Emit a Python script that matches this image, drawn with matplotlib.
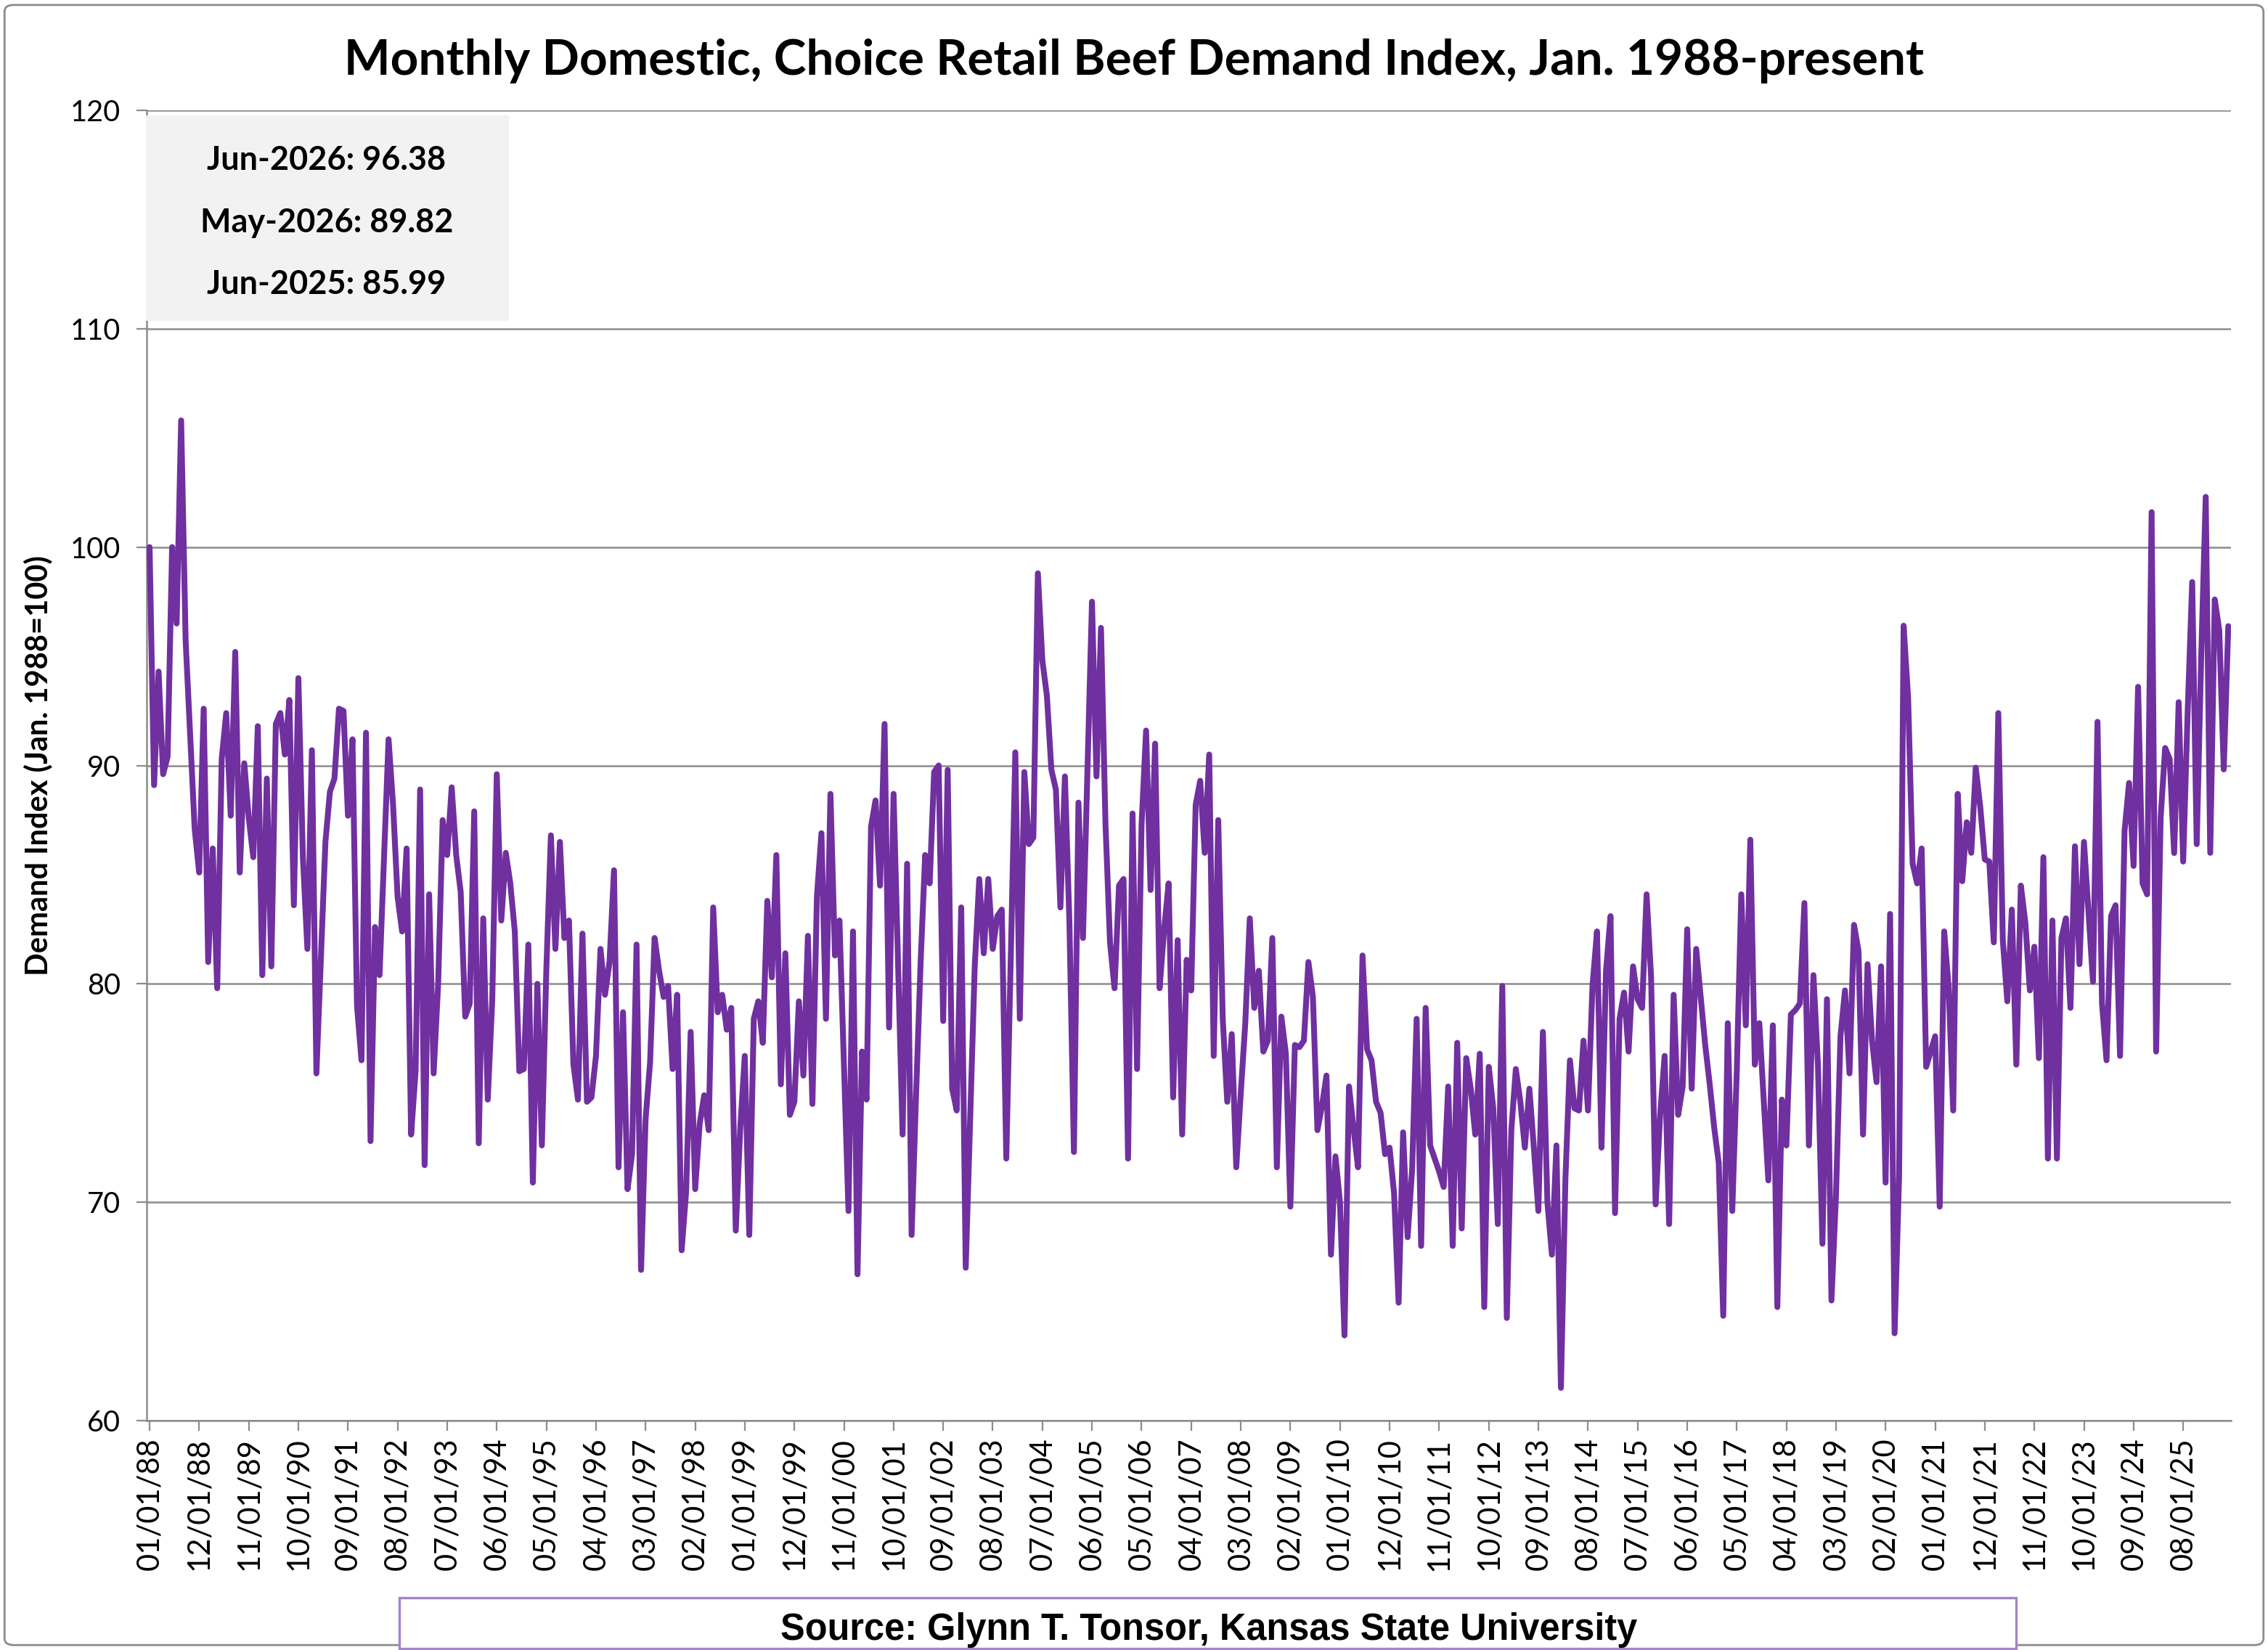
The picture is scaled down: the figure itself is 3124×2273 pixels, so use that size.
import matplotlib
matplotlib.use("Agg")
import matplotlib.pyplot as plt
from matplotlib.patches import Rectangle, FancyBboxPatch
import numpy as np
import pandas as pd

# monthly demand index (Jan. 1988 = 100)
idx_1988_1991 = [100.0, 89.1, 94.3, 89.6, 90.4, 100.0, 96.5, 105.8, 95.7, 91.4, 87.1, 85.1,
                 92.6, 81.0, 86.2, 79.8, 90.3, 92.4, 87.7, 95.2, 85.1, 90.1, 87.6, 85.8,
                 91.8, 80.4, 89.4, 80.8, 91.9, 92.4, 90.5, 93.0, 83.6, 94.0, 85.8, 81.6,
                 90.7, 75.9, 81.2, 86.5, 88.8, 89.4, 92.6, 92.5, 87.7, 91.2, 79.0, 76.5]
idx_1992_1995 = [91.5, 72.8, 82.6, 80.4, 85.8, 91.2, 88.2, 84.0, 82.4, 86.2, 73.1, 76.0,
                 88.9, 71.7, 84.1, 75.9, 80.0, 87.5, 85.9, 89.0, 85.9, 84.2, 78.5, 79.1,
                 87.9, 72.7, 83.0, 74.7, 79.3, 89.6, 82.9, 86.0, 84.6, 82.4, 76.0, 76.1,
                 81.8, 70.9, 80.0, 72.6, 80.7, 86.8, 81.6, 86.5, 82.1, 82.9, 76.3, 74.7]
idx_1996_1999 = [82.3, 74.6, 74.8, 76.7, 81.6, 79.5, 81.0, 85.2, 71.6, 78.7, 70.6, 72.2,
                 81.8, 66.9, 73.8, 76.4, 82.1, 80.6, 79.4, 79.9, 76.1, 79.5, 67.8, 70.5,
                 77.8, 70.6, 73.6, 74.9, 73.3, 83.5, 78.7, 79.5, 77.9, 78.9, 68.7, 73.4,
                 76.7, 68.5, 78.4, 79.2, 77.3, 83.8, 80.3, 85.9, 75.4, 81.4, 74.0, 74.6]
idx_2000_2003 = [79.2, 75.8, 82.2, 74.5, 84.0, 86.9, 78.4, 88.7, 81.3, 82.9, 76.2, 69.6,
                 82.4, 66.7, 76.9, 74.7, 87.2, 88.4, 84.5, 91.9, 78.0, 88.7, 80.9, 73.1,
                 85.5, 68.5, 75.0, 81.0, 85.9, 84.6, 89.7, 90.0, 78.3, 89.8, 75.2, 74.2,
                 83.5, 67.0, 73.9, 80.8, 84.8, 81.4, 84.8, 81.6, 83.1, 83.4, 72.0, 81.3]
idx_2004_2007 = [90.6, 78.4, 89.7, 86.4, 86.7, 98.8, 94.8, 93.2, 89.8, 88.9, 83.5, 89.5,
                 82.8, 72.3, 88.3, 82.1, 89.8, 97.5, 89.5, 96.3, 87.3, 81.9, 79.8, 84.5,
                 84.8, 72.0, 87.8, 76.1, 87.3, 91.6, 84.3, 91.0, 79.8, 82.5, 84.6, 74.8,
                 82.0, 73.1, 81.1, 79.7, 88.2, 89.3, 86.0, 90.5, 76.7, 87.5, 78.4, 74.6]
idx_2008_2011 = [77.7, 71.6, 75.0, 78.2, 83.0, 78.9, 80.6, 76.9, 77.4, 82.1, 71.6, 78.5,
                 76.8, 69.8, 77.2, 77.1, 77.4, 81.0, 79.4, 73.3, 74.4, 75.8, 67.6, 72.1,
                 70.0, 63.9, 75.3, 73.4, 71.6, 81.3, 77.0, 76.5, 74.6, 74.1, 72.2, 72.5,
                 70.4, 65.4, 73.2, 68.4, 71.5, 78.4, 68.0, 78.9, 72.6, 72.0, 71.4, 70.7]
idx_2012_2015 = [75.3, 68.0, 77.3, 68.8, 76.6, 75.2, 73.1, 76.8, 65.2, 76.2, 74.3, 69.0,
                 79.9, 64.7, 73.3, 76.1, 74.6, 72.5, 75.2, 72.5, 69.6, 77.8, 70.0, 67.6,
                 72.6, 61.5, 71.1, 76.5, 74.3, 74.2, 77.4, 74.2, 79.9, 82.4, 72.5, 80.6,
                 83.1, 69.5, 78.4, 79.6, 76.9, 80.8, 79.3, 78.9, 84.1, 80.3, 69.9, 74.0]
idx_2016_2019 = [76.7, 69.0, 79.5, 74.0, 75.3, 82.5, 75.2, 81.6, 79.4, 77.2, 75.4, 73.4,
                 71.8, 64.8, 78.2, 69.6, 76.0, 84.1, 78.1, 86.6, 76.3, 78.2, 74.6, 71.0,
                 78.1, 65.2, 74.7, 72.6, 78.6, 78.8, 79.1, 83.7, 72.6, 80.4, 76.3, 68.1,
                 79.3, 65.5, 70.3, 77.6, 79.7, 75.9, 82.7, 81.5, 73.1, 80.9, 77.4, 75.5]
idx_2020_2023 = [80.8, 70.9, 83.2, 64.0, 71.2, 96.4, 93.1, 85.5, 84.6, 86.2, 76.2, 76.9,
                 77.6, 69.8, 82.4, 79.8, 74.2, 88.7, 84.7, 87.4, 86.0, 89.9, 88.1, 85.7,
                 85.6, 81.9, 92.4, 82.0, 79.2, 83.4, 76.3, 84.5, 82.8, 79.7, 81.7, 76.6,
                 85.8, 72.0, 82.9, 72.0, 82.1, 83.0, 78.9, 86.3, 80.9, 86.5, 83.3, 80.1]
idx_2024_2026 = [92.0, 79.1, 76.5, 83.1, 83.6, 76.7, 87.0, 89.2, 85.4, 93.6, 84.6, 84.1,
                 101.6, 76.9, 87.6, 90.8, 90.3, 85.99, 92.9, 85.6, 92.5, 98.4, 86.4, 95.0,
                 102.3, 86.0, 97.6, 96.2, 89.82, 96.38]

latest_labels = ["Jun-2026: 96.38", "May-2026: 89.82", "Jun-2025: 85.99"]
title = "Monthly Domestic, Choice Retail Beef Demand Index, Jan. 1988-present"
source = "Source: Glynn T. Tonsor, Kansas State University"

values = (idx_1988_1991 + idx_1992_1995 + idx_1996_1999 + idx_2000_2003 + idx_2004_2007
          + idx_2008_2011 + idx_2012_2015 + idx_2016_2019 + idx_2020_2023 + idx_2024_2026)
months = pd.date_range("1988-01-01", periods=len(values), freq="MS")
x = np.arange(len(values))

plt.rcParams["font.family"] = ["Lato", "DejaVu Sans"]

W, H = 3124, 2273
fig = plt.figure(figsize=(W / 200, H / 200), dpi=200)
fig.patch.set_facecolor("white")

ax = fig.add_axes([202.3 / W, 1 - 1957 / H, (3073 - 202.3) / W, (1957 - 152) / H])
ax.plot(x, values, color="#7030A0", lw=2.9, solid_joinstyle="round",
        solid_capstyle="round", zorder=3)
ax.set_xlim(-0.6, len(values) - 1 + 0.6)
ax.set_ylim(60, 120)
ax.set_yticks(range(60, 121, 10))
ax.yaxis.grid(True, color="#8c8c8c", lw=0.9)
ax.set_axisbelow(True)
for s in ["top", "right"]:
    ax.spines[s].set_visible(False)
for s in ["left", "bottom"]:
    ax.spines[s].set_color("#8c8c8c")
    ax.spines[s].set_linewidth(0.9)

ax.set_xticks(x[::11], [d.strftime("%m/%d/%y") for d in months[::11]], rotation=90)
ax.tick_params(axis="x", direction="out", length=5, color="#8c8c8c", labelsize=15, pad=3.5)
ax.tick_params(axis="y", direction="out", length=5, color="#8c8c8c", labelsize=14.3, pad=8)

fig.text(52 / W, 1 - 1055 / H, "Demand Index (Jan. 1988=100)", rotation=90,
         ha="center", va="center", fontsize=15, fontweight="bold")
fig.text(0.5, 1 - 84 / H, title, ha="center", va="center", fontsize=24.3, fontweight="bold")

# box with latest values
fig.add_artist(Rectangle((201 / W, 1 - 442 / H), (701 - 201) / W, (442 - 159) / H,
                         transform=fig.transFigure, facecolor="#f2f2f2",
                         edgecolor="none", zorder=5))
for lab, yy in zip(latest_labels, [221, 307, 392]):
    fig.text(450 / W, 1 - yy / H, lab, ha="center", va="center", fontsize=16.2,
             fontweight="bold", zorder=6)

# source box
fig.add_artist(Rectangle((550 / W, 1 - 2271 / H), (2777 - 550) / W, (2271 - 2201) / H,
                         transform=fig.transFigure, facecolor="white",
                         edgecolor="#a383c9", lw=1.2, zorder=5))
fig.text(1665 / W, 1 - 2245 / H, source, ha="center", va="center", fontsize=18.2,
         fontweight="bold", family="Liberation Sans", zorder=6)

# chart border
fig.add_artist(FancyBboxPatch((0.002, 0.003), 0.996, 0.994,
                              boxstyle="round,pad=0,rounding_size=0.004",
                              transform=fig.transFigure, facecolor="none",
                              edgecolor="#8c8c8c", lw=1.0, zorder=0))

fig.savefig("out.png", dpi=200)
